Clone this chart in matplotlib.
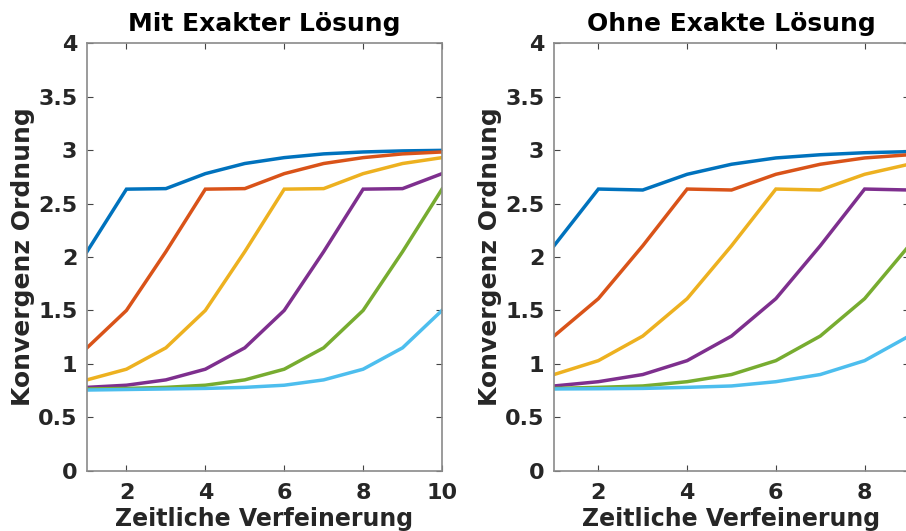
import matplotlib
matplotlib.use("Agg")
import matplotlib.pyplot as plt

x_left = [1, 2, 3, 4, 5, 6, 7, 8, 9, 10]
x_right = [1, 2, 3, 4, 5, 6, 7, 8, 9]

left_series = [
    [2.05, 2.635, 2.64, 2.78, 2.875, 2.93, 2.965, 2.983, 2.993, 2.998],
    [1.15, 1.50, 2.05, 2.635, 2.64, 2.78, 2.875, 2.93, 2.965, 2.983],
    [0.85, 0.95, 1.15, 1.50, 2.05, 2.635, 2.64, 2.78, 2.875, 2.93],
    [0.78, 0.80, 0.85, 0.95, 1.15, 1.50, 2.05, 2.635, 2.64, 2.78],
    [0.765, 0.77, 0.78, 0.80, 0.85, 0.95, 1.15, 1.50, 2.05, 2.635],
    [0.755, 0.76, 0.765, 0.77, 0.78, 0.80, 0.85, 0.95, 1.15, 1.50],
]
right_series = [
    [2.105, 2.636, 2.627, 2.774, 2.868, 2.927, 2.957, 2.976, 2.986],
    [1.26, 1.61, 2.105, 2.636, 2.627, 2.774, 2.868, 2.927, 2.957],
    [0.90, 1.03, 1.26, 1.61, 2.105, 2.636, 2.627, 2.774, 2.868],
    [0.793, 0.833, 0.90, 1.03, 1.26, 1.61, 2.105, 2.636, 2.627],
    [0.77, 0.78, 0.793, 0.833, 0.90, 1.03, 1.26, 1.61, 2.105],
    [0.765, 0.767, 0.77, 0.78, 0.793, 0.833, 0.90, 1.03, 1.26],
]
colors = ["#0072BD", "#D95319", "#EDB120", "#7E2F8E", "#77AC30", "#4DBEEE"]

titles = ["Mit Exakter Lösung", "Ohne Exakte Lösung"]
xlabel = "Zeitliche Verfeinerung"
ylabel = "Konvergenz Ordnung"
yticks = [0, 0.5, 1, 1.5, 2, 2.5, 3, 3.5, 4]
yticklabels = ["0", "0.5", "1", "1.5", "2", "2.5", "3", "3.5", "4"]
xticks = [2, 4, 6, 8, 10]

W, H = 906, 531
fig = plt.figure(figsize=(W / 100, H / 100), dpi=100)
txtc = "#262626"
spc = "#8a8a8a"

def setup(ax, xs, series, title, xmax):
    for s, c in zip(series, colors):
        ax.plot(xs, s, color=c, lw=2.5, solid_joinstyle="miter")
    ax.set_xlim(1, xmax)
    ax.set_ylim(0, 4)
    ax.set_yticks(yticks)
    ax.set_yticklabels(yticklabels)
    ax.set_xticks([t for t in xticks if t <= xmax])
    ax.tick_params(direction="in", length=4, width=0.8, color="#444444",
                   top=True, right=True, labelsize=16, labelcolor=txtc)
    ax.tick_params(axis="x", pad=9)
    ax.tick_params(axis="y", pad=7)
    for lab in ax.get_xticklabels() + ax.get_yticklabels():
        lab.set_fontweight("bold")
    for sp in ax.spines.values():
        sp.set_color(spc)
        sp.set_linewidth(1.2)
    ax.set_title(title, fontsize=18, fontweight="bold", color="black", pad=9)
    ax.set_xlabel(xlabel, fontsize=17, fontweight="bold", color=txtc, labelpad=3)
    ax.set_ylabel(ylabel, fontsize=18, fontweight="bold", color=txtc, labelpad=2)

ax1 = fig.add_axes([87 / W, 1 - 470.7 / H, 355 / W, 427.4 / H])
setup(ax1, x_left, left_series, titles[0], 10)
ax2 = fig.add_axes([554 / W, 1 - 470.7 / H, 355 / W, 427.4 / H])
setup(ax2, x_right, right_series, titles[1], 9)

fig.savefig("out.png", dpi=100)
